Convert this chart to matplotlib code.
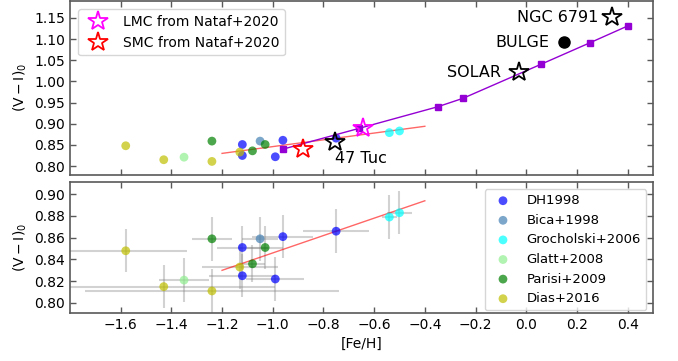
import matplotlib
matplotlib.use("Agg")
import matplotlib.pyplot as plt

plt.rcParams['font.family'] = ['DejaVu Sans']
plt.rcParams['mathtext.default'] = 'regular'

# Cluster colours by source catalogue: [Fe/H], (V-I)_0 and their uncertainties
dh_feh = [-1.12, -1.12, -0.96, -0.99, -0.75]
dh_vi = [0.851, 0.825, 0.861, 0.822, 0.866]
dh_xerr = [0.10, 0.13, 0.12, 0.115, 0.13]
dh_yerr = [0.02, 0.02, 0.02, 0.02, 0.02]

bica_feh = [-1.05]
bica_vi = [0.859]
bica_xerr = [0.07]
bica_yerr = [0.02]

groch_feh = [-0.54, -0.50]
groch_vi = [0.879, 0.883]
groch_xerr = [0.03, 0.05]
groch_yerr = [0.02, 0.02]

glatt_feh = [-1.35]
glatt_vi = [0.821]
glatt_xerr = [0.10]
glatt_yerr = [0.02]

parisi_feh = [-1.24, -1.08, -1.03]
parisi_vi = [0.859, 0.836, 0.851]
parisi_xerr = [0.08, 0.05, 0.07]
parisi_yerr = [0.02, 0.017, 0.02]

dias_feh = [-1.58, -1.43, -1.24, -1.13]
dias_vi = [0.848, 0.815, 0.811, 0.833]
dias_xerr = [0.24, 0.44, 0.50, 0.15]
dias_yerr = [0.02, 0.02, 0.02, 0.02]

catalogues = [
    ("DH1998", "blue", dh_feh, dh_vi, dh_xerr, dh_yerr),
    ("Bica+1998", "steelblue", bica_feh, bica_vi, bica_xerr, bica_yerr),
    ("Grocholski+2006", "cyan", groch_feh, groch_vi, groch_xerr, groch_yerr),
    ("Glatt+2008", "lightgreen", glatt_feh, glatt_vi, glatt_xerr, glatt_yerr),
    ("Parisi+2009", "green", parisi_feh, parisi_vi, parisi_xerr, parisi_yerr),
    ("Dias+2016", "y", dias_feh, dias_vi, dias_xerr, dias_yerr),
]

# Linear relation through the Magellanic Cloud clusters
fit_feh = [-1.20, -0.40]
fit_vi = [0.830, 0.894]

# Model sequence
model_feh = [-0.96, -0.66, -0.35, -0.25, 0.06, 0.25, 0.40]
model_vi = [0.840, 0.889, 0.940, 0.960, 1.041, 1.091, 1.131]

# Reference objects
lmc_feh, lmc_vi = [-0.643], [0.889]
smc_feh, smc_vi = [-0.880], [0.840]
ref_names = ["47 Tuc", "SOLAR", "NGC 6791"]
ref_feh = [-0.754, -0.03, 0.338]
ref_vi = [0.858, 1.022, 1.152]
bulge_feh, bulge_vi = [0.147], [1.092]

xticks = [-1.6, -1.4, -1.2, -1.0, -0.8, -0.6, -0.4, -0.2, 0.0, 0.2, 0.4]
top_yticks = [0.80, 0.85, 0.90, 0.95, 1.00, 1.05, 1.10, 1.15]
bot_yticks = [0.80, 0.82, 0.84, 0.86, 0.88, 0.90]

fig = plt.figure(figsize=(6.78, 3.61), dpi=100)
ax1 = fig.add_axes([0.1032, 0.5165, 0.8599, 0.4807])
ax2 = fig.add_axes([0.1032, 0.1338, 0.8599, 0.3612], sharex=ax1)

edge = '0.35'
for ax in (ax1, ax2):
    for s in ax.spines.values():
        s.set_color(edge)
        s.set_linewidth(1.2)
    ax.tick_params(direction='in', top=True, right=True, length=4,
                   width=1, color=edge, labelsize=10)

# --- upper panel ---
for name, col, fx, vy, ex, ey in catalogues:
    ax1.scatter(fx, vy, s=40, color=col, alpha=0.7, edgecolors='none', zorder=3)

ax1.plot(fit_feh, fit_vi, color='red', alpha=0.6, lw=1, zorder=2)
ax1.plot(model_feh, model_vi, color='darkviolet', lw=1, marker='s', ms=4,
         zorder=4)

ax1.plot(lmc_feh, lmc_vi, ls='none', marker='*', ms=15, mfc='none',
         mec='magenta', mew=1.3, zorder=5, label='LMC from Nataf+2020')
ax1.plot(smc_feh, smc_vi, ls='none', marker='*', ms=15, mfc='none',
         mec='red', mew=1.3, zorder=5, label='SMC from Nataf+2020')
ax1.plot(ref_feh, ref_vi, ls='none', marker='*', ms=15, mfc='none',
         mec='black', mew=1.3, zorder=5)
ax1.plot(bulge_feh, bulge_vi, ls='none', marker='o', ms=8, color='black',
         zorder=5)

ax1.annotate(ref_names[0], (ref_feh[0], ref_vi[0]), xytext=(0, -7),
             textcoords='offset points', ha='left', va='top', fontsize=11.5)
ax1.annotate(ref_names[1], (ref_feh[1], ref_vi[1]), xytext=(-13, 0),
             textcoords='offset points', ha='right', va='center', fontsize=11.5)
ax1.annotate(ref_names[2], (ref_feh[2], ref_vi[2]), xytext=(-10, 0),
             textcoords='offset points', ha='right', va='center', fontsize=11.5)
ax1.annotate("BULGE", (bulge_feh[0], bulge_vi[0]), xytext=(-10, 0),
             textcoords='offset points', ha='right', va='center', fontsize=11.5)

ax1.set_ylim(0.78, 1.19)
ax1.set_yticks(top_yticks)
ax1.set_ylabel(r'$\mathrm{(V-I)_0}$', fontsize=10)
ax1.tick_params(labelbottom=False)
ax1.legend(loc='upper left', fontsize=10, borderaxespad=0.6)

# --- lower panel ---
for name, col, fx, vy, ex, ey in catalogues:
    ax2.errorbar(fx, vy, xerr=ex, yerr=ey, fmt='none', ecolor='gray',
                 alpha=0.35, elinewidth=1.5, capsize=0, zorder=1)
for name, col, fx, vy, ex, ey in catalogues:
    ax2.scatter(fx, vy, s=40, color=col, alpha=0.7, edgecolors='none',
                zorder=3, label=name)

ax2.plot(fit_feh, fit_vi, color='red', alpha=0.6, lw=1, zorder=2)

ax2.set_xlim(-1.8, 0.5)
ax2.set_xticks(xticks)
ax2.set_xticklabels([f"{t:.1f}".replace('-', '\u2212') for t in xticks])
ax2.set_ylim(0.791, 0.911)
ax2.set_yticks(bot_yticks)
ax2.set_ylabel(r'$\mathrm{(V-I)_0}$', fontsize=10)
ax2.set_xlabel('[Fe/H]', fontsize=10)
ax2.legend(loc='upper right', fontsize=9.5, borderaxespad=0.5)

fig.savefig('out.png', dpi=100)
